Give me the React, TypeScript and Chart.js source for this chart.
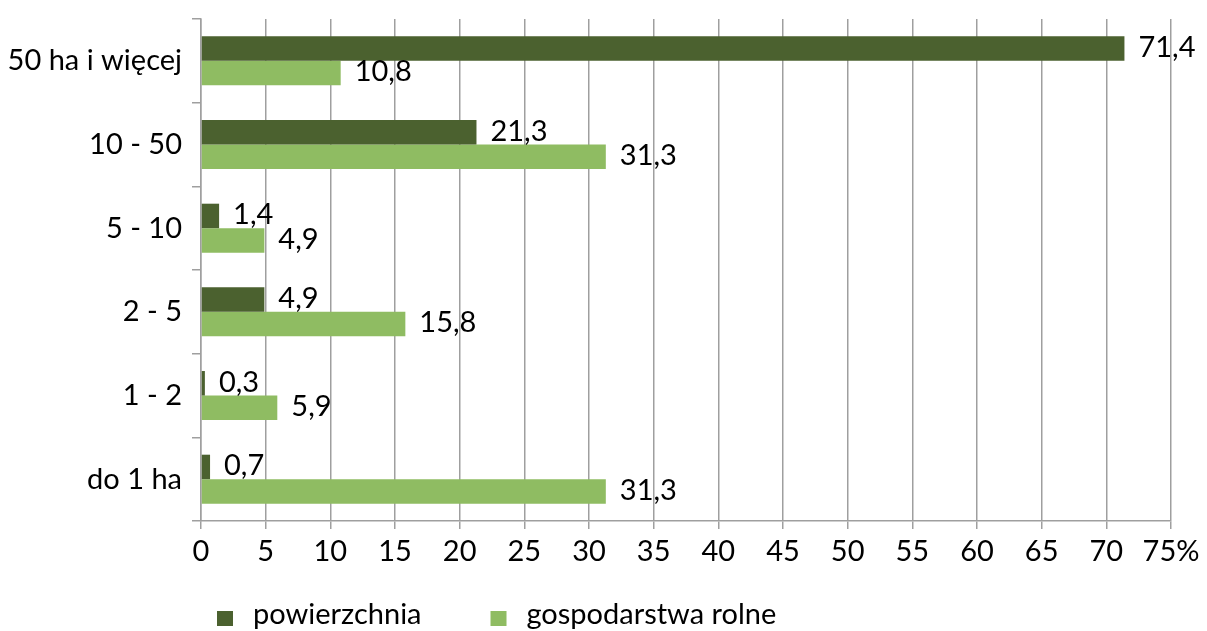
import React, { useEffect, useRef } from 'react';
import { Chart, registerables } from 'chart.js';

Chart.register(...registerables);

const categories = ['50 ha i więcej', '10 - 50', '5 - 10', '2 - 5', '1 - 2', 'do 1 ha'];
const seriesNames = ['powierzchnia', 'gospodarstwa rolne'];
const powierzchnia = [71.4, 21.3, 1.4, 4.9, 0.3, 0.7];
const gospodarstwa = [10.8, 31.3, 4.9, 15.8, 5.9, 31.3];
const xMin = 0;
const xMax = 75;
const xStep = 5;
const lastTickSuffix = '%';

const FONT = 'Lato, "Noto Sans", sans-serif';
const FONT_SIZE = 29;
const DARK = '#4b612f';
const LIGHT = '#8fbc62';
const GRID = '#9f9f9f';

const fmt = (v: number) => v.toFixed(1).replace('.', ',');

const dataLabelsPlugin = {
  id: 'dataLabels',
  afterDatasetsDraw(chart: any) {
    const ctx = chart.ctx;
    ctx.save();
    ctx.font = `${FONT_SIZE}px ${FONT}`;
    ctx.fillStyle = '#000';
    ctx.textAlign = 'left';
    ctx.textBaseline = 'middle';
    chart.data.datasets.forEach((ds: any, di: number) => {
      const meta = chart.getDatasetMeta(di);
      meta.data.forEach((el: any, i: number) => {
        ctx.fillText(fmt(ds.data[i]), el.x + 14, el.y - 1);
      });
    });
    ctx.restore();
  },
};

const legendPlugin = {
  id: 'customLegend',
  afterDraw(chart: any) {
    const ctx = chart.ctx;
    ctx.save();
    ctx.font = `${FONT_SIZE}px ${FONT}`;
    ctx.textAlign = 'left';
    ctx.textBaseline = 'middle';
    let x = 217;
    const yBox = 611;
    const box = 16;
    chart.data.datasets.forEach((ds: any) => {
      ctx.fillStyle = ds.backgroundColor;
      ctx.fillRect(x, yBox, box, box - 1);
      const tx = x + box + 20;
      ctx.fillStyle = '#000';
      ctx.fillText(ds.label, tx, 615);
      const w = ctx.measureText(ds.label).width;
      x = tx + w + 69;
    });
    ctx.restore();
  },
};

export default function App() {
  const ref = useRef<HTMLCanvasElement | null>(null);

  useEffect(() => {
    if (!ref.current) return;
    const chart = new Chart(ref.current, {
      type: 'bar',
      data: {
        labels: categories,
        datasets: [
          {
            label: seriesNames[0],
            data: powierzchnia,
            backgroundColor: DARK,
            categoryPercentage: 0.585,
            barPercentage: 1.0,
          },
          {
            label: seriesNames[1],
            data: gospodarstwa,
            backgroundColor: LIGHT,
            categoryPercentage: 0.585,
            barPercentage: 1.0,
          },
        ],
      },
      options: {
        indexAxis: 'y',
        animation: false,
        responsive: true,
        maintainAspectRatio: false,
        layout: { padding: { top: 19, right: 36, bottom: 60, left: 0 } },
        plugins: {
          legend: { display: false },
          tooltip: { enabled: false },
        },
        scales: {
          y: {
            type: 'category',
            grid: {
              drawOnChartArea: false,
              drawTicks: true,
              tickLength: 9,
              color: GRID,
              lineWidth: 1.5,
              offset: true,
            },
            border: { color: GRID, width: 1.5 },
            ticks: {
              font: { family: FONT, size: FONT_SIZE },
              color: '#000',
              padding: 10,
            },
            afterFit: (s: any) => {
              s.width = 201;
              s.paddingTop = 0;
              s.paddingBottom = 0;
            },
          },
          x: {
            type: 'linear',
            min: xMin,
            max: xMax,
            grid: {
              color: GRID,
              lineWidth: 1.5,
              tickLength: 8,
              drawTicks: true,
            },
            border: { color: GRID, width: 1.5 },
            ticks: {
              stepSize: xStep,
              autoSkip: false,
              maxRotation: 0,
              font: { family: FONT, size: FONT_SIZE },
              color: '#000',
              padding: 5,
              callback: (v: any) => (v === xMax ? `${v}${lastTickSuffix}` : String(v)),
            },
            afterFit: (s: any) => {
              s.height = 50;
              s.paddingLeft = 0;
              s.paddingRight = 0;
            },
          },
        },
      },
      plugins: [dataLabelsPlugin, legendPlugin],
    });
    return () => chart.destroy();
  }, []);

  return (
    <div style={{ position: 'absolute', left: 0, top: 0, width: 1207, height: 631, background: '#fff' }}>
      <canvas ref={ref} />
    </div>
  );
}
